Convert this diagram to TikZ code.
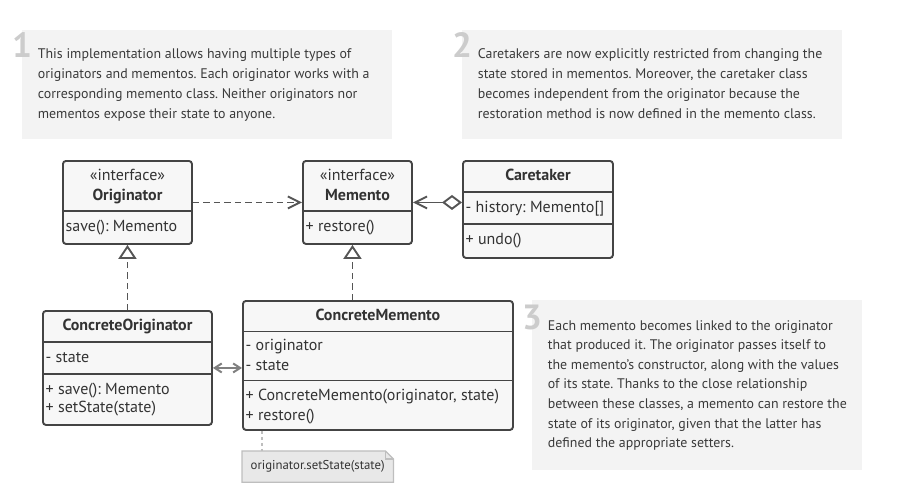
\documentclass[tikz,border=0pt]{standalone}
\usepackage{fontspec}
\setmainfont{PT Sans}
\usetikzlibrary{arrows.meta,positioning}
\frenchspacing

\definecolor{boxline}{RGB}{68,68,68}
\definecolor{boxfill}{RGB}{247,247,247}
\definecolor{notefill}{RGB}{243,243,243}
\definecolor{numgray}{RGB}{204,204,204}
\definecolor{txt}{RGB}{51,51,51}
\definecolor{notetxt}{RGB}{58,58,58}
\definecolor{arrowgray}{RGB}{85,85,85}
\definecolor{hintfill}{RGB}{232,232,232}
\definecolor{hintline}{RGB}{190,190,190}

\begin{document}
\begin{tikzpicture}[x=1pt, y=-1pt,
    classbox/.style={draw=boxline, fill=boxfill, line width=1.9pt, rounded corners=3pt, anchor=north west, inner sep=0pt},
    divider/.style={draw=boxline, line width=1.9pt},
    title/.style={font=\fontsize{16}{18}\selectfont\bfseries, text=txt, inner sep=0pt, text height=11.5pt, text depth=3.5pt},
    stereo/.style={font=\fontsize{16}{18}\selectfont, text=txt, inner sep=0pt, text height=11.5pt, text depth=3.5pt},
    member/.style={font=\fontsize{16}{18}\selectfont, text=txt, anchor=west, inner sep=0pt, text height=11.5pt, text depth=3.5pt},
    notebox/.style={fill=notefill, anchor=north west, inner sep=0pt},
    notetext/.style={font=\fontsize{13.9}{20}\selectfont, text=notetxt, anchor=north west, inner sep=0pt, align=left},
    number/.style={font=\fontsize{35}{35}\selectfont\bfseries, text=numgray, anchor=base west, inner sep=0pt},
    dep/.style={draw=arrowgray, line width=1.9pt, dash pattern=on 6.5pt off 4pt, -{Straight Barb[length=12pt,width=12pt]}},
    impl/.style={draw=arrowgray, line width=1.9pt, dash pattern=on 6.5pt off 4pt, -{Triangle[open,fill=white,length=14pt,width=18pt]}},
    agg/.style={draw=arrowgray, line width=1.9pt, {Straight Barb[length=12pt,width=12pt]}-{Diamond[open,fill=white,length=20pt,width=15pt]}},
    link/.style={draw=arrowgray!75, line width=2pt, {Straight Barb[length=7pt,width=9pt]}-{Straight Barb[length=7pt,width=9pt]}},
    hint/.style={font=\fontsize{12.8}{14}\selectfont, text=txt, minimum width=151pt, minimum height=31pt, inner sep=0pt},
  ]
  \useasboundingbox (0,0) rectangle (900,503);

  % notes
  \node[notebox, minimum width=370pt, minimum height=109pt] (n1) at (22,30) {};
  \node[number] (n1num) at (12,58) {1};
  \node[notetext] (n1txt) at (37.7,48) {This implementation allows having multiple types of\\
    originators and mementos. Each originator works with a\\
    corresponding memento class. Neither originators nor\\
    mementos expose their state to anyone.};

  \node[notebox, minimum width=380pt, minimum height=109pt] (n2) at (462,30) {};
  \node[number] (n2num) at (452,58) {2};
  \node[notetext] (n2txt) at (477.7,48) {Caretakers are now explicitly restricted from changing the\\
    state stored in mementos. Moreover, the caretaker class\\
    becomes independent from the originator because the\\
    restoration method is now defined in the memento class.};

  \node[notebox, minimum width=330pt, minimum height=170pt] (n3) at (532,300) {};
  \node[number] (n3num) at (522,329) {3};
  \node[notetext, font=\fontsize{13.9}{19.6}\selectfont] (n3txt) at (547.7,320) {Each memento becomes linked to the originator\\
    that produced it. The originator passes itself to\\
    the memento’s constructor, along with the values\\
    of its state. Thanks to the close relationship\\
    between these classes, a memento can restore the\\
    state of its originator, given that the latter has\\
    defined the appropriate setters.};

  % Originator
  \node[classbox, minimum width=129pt, minimum height=83pt] (orig) at (62,160) {};
  \node[stereo] (origS) at ([yshift=-16.5pt]orig.north) {«interface»};
  \node[title] (origT) at ([yshift=-36.5pt]orig.north) {Originator};
  \draw[divider] ([yshift=-51pt]orig.north west) -- ([yshift=-51pt]orig.north east);
  \node[member] (origM) at ([xshift=3.5pt,yshift=-67pt]orig.north west) {save(): Memento};

  % Memento
  \node[classbox, minimum width=109pt, minimum height=83pt] (mem) at (302,160) {};
  \node[stereo] (memS) at ([yshift=-16.5pt]mem.north) {«interface»};
  \node[title] (memT) at ([yshift=-36.5pt]mem.north) {Memento};
  \draw[divider] ([yshift=-51pt]mem.north west) -- ([yshift=-51pt]mem.north east);
  \node[member] (memM) at ([xshift=3.5pt,yshift=-67pt]mem.north west) {+ restore()};

  % Caretaker
  \node[classbox, minimum width=150pt, minimum height=97pt] (care) at (462,160) {};
  \node[title] (careT) at ([yshift=-16pt]care.north) {Caretaker};
  \draw[divider] ([yshift=-32pt]care.north west) -- ([yshift=-32pt]care.north east);
  \node[member] (careA) at ([xshift=3.5pt,yshift=-48pt]care.north west) {- history: Memento[]};
  \draw[divider] ([yshift=-64pt]care.north west) -- ([yshift=-64pt]care.north east);
  \node[member] (careM) at ([xshift=3.5pt,yshift=-80.5pt]care.north west) {+ undo()};

  % ConcreteOriginator
  \node[classbox, minimum width=169pt, minimum height=114pt] (corig) at (42,310) {};
  \node[title] (corigT) at ([yshift=-16pt]corig.north) {ConcreteOriginator};
  \draw[divider] ([yshift=-32pt]corig.north west) -- ([yshift=-32pt]corig.north east);
  \node[member] (corigA) at ([xshift=3.5pt,yshift=-48pt]corig.north west) {- state};
  \draw[divider] ([yshift=-64pt]corig.north west) -- ([yshift=-64pt]corig.north east);
  \node[member] (corigM1) at ([xshift=3.5pt,yshift=-80pt]corig.north west) {+ save(): Memento};
  \node[member] (corigM2) at ([xshift=3.5pt,yshift=-98.5pt]corig.north west) {+ setState(state)};

  % ConcreteMemento
  \node[classbox, minimum width=270pt, minimum height=129pt] (cmem) at (242,300) {};
  \node[title] (cmemT) at ([yshift=-16pt]cmem.north) {ConcreteMemento};
  \draw[divider] ([yshift=-31.5pt]cmem.north west) -- ([yshift=-31.5pt]cmem.north east);
  \node[member] (cmemA1) at ([xshift=3.5pt,yshift=-46pt]cmem.north west) {- originator};
  \node[member] (cmemA2) at ([xshift=3.5pt,yshift=-66pt]cmem.north west) {- state};
  \draw[divider] ([yshift=-80.5pt]cmem.north west) -- ([yshift=-80.5pt]cmem.north east);
  \node[member] (cmemM1) at ([xshift=3.5pt,yshift=-96.5pt]cmem.north west) {+ ConcreteMemento(originator, state)};
  \node[member] (cmemM2) at ([xshift=3.5pt,yshift=-116pt]cmem.north west) {+ restore()};

  % note on restore()
  \node[hint] (hint) [below right=20pt and 0pt of cmem.south west] {};
  \draw[draw=hintline, fill=hintfill, line width=1.2pt] (hint.north west) -- ([xshift=-8pt]hint.north east)
    -- ([yshift=-8pt]hint.north east) -- (hint.south east) -- (hint.south west) -- cycle;
  \draw[draw=hintline, line width=1.2pt] ([xshift=-8pt]hint.north east) |- ([yshift=-8pt]hint.north east);
  \node[hint] (hintT) at (hint.center) {originator.setState(state)};
  \draw[draw=hintline, line width=1.2pt, dash pattern=on 3pt off 3pt] ([xshift=20pt]cmem.south west) -- ([xshift=20pt]hint.north west);

  % connectors
  \draw[dep] (orig) -- (mem);
  \draw[agg] (mem.east) -- (care.west |- mem.east);
  \draw[impl] (corig) -- (orig);
  \draw[impl] ([xshift=-5pt]mem.south |- cmem.north) -- ([xshift=-5pt]mem.south);
  \draw[link] (corig.east) -- (corig.east -| cmem.west);
\end{tikzpicture}
\end{document}
